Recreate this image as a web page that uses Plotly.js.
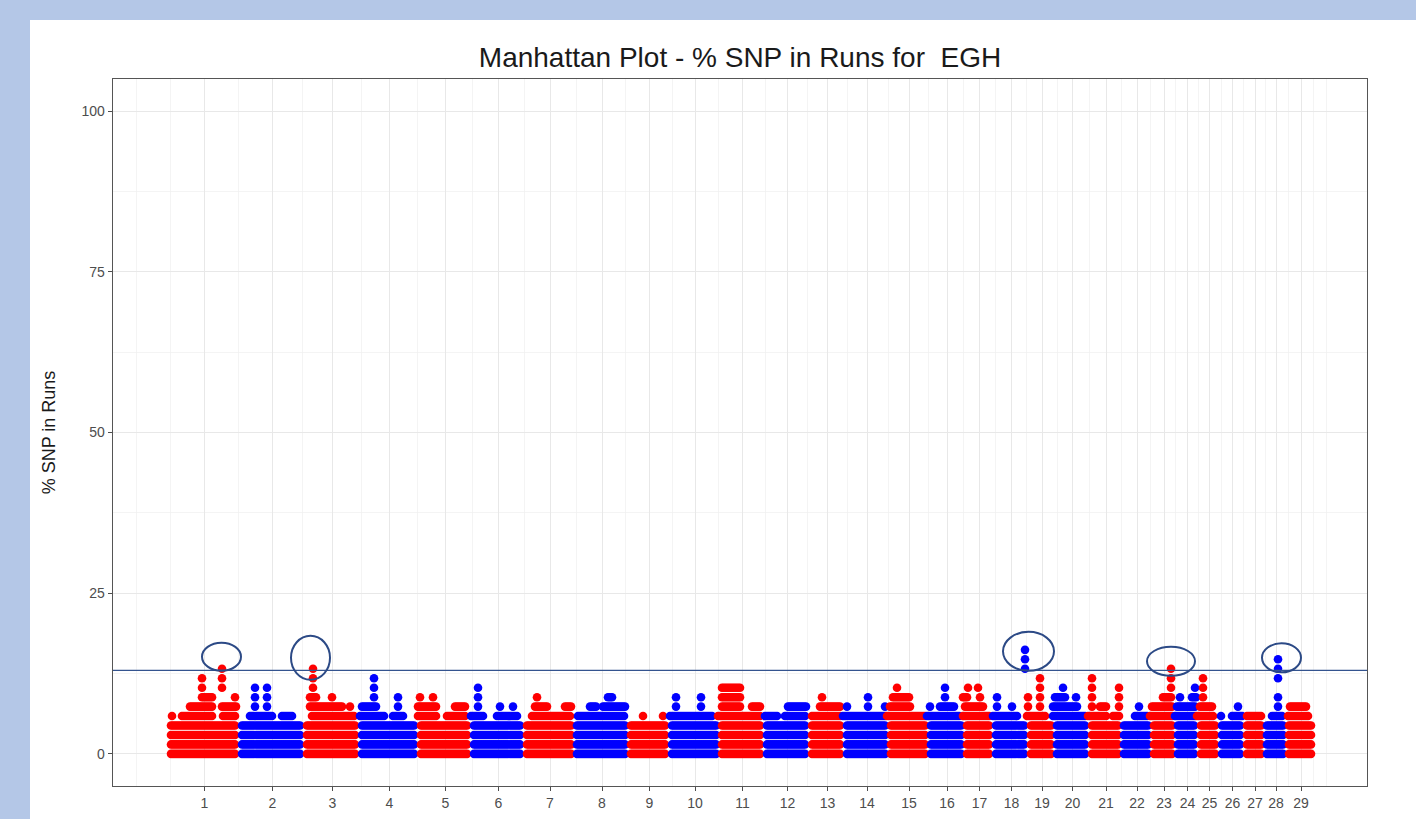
<!DOCTYPE html>
<html>
<head>
<meta charset="utf-8">
<script src="https://cdn.plot.ly/plotly-3.0.1.min.js"></script>
<style>
  html, body { margin:0; padding:0; overflow:hidden; background:#b4c7e7; }
  #panel { position:absolute; left:30px; top:20px; width:1386px; height:830px; background:#ffffff; }
  #chart { position:absolute; left:0; top:0; width:1416px; height:850px; }
</style>
</head>
<body>
<div id="panel"></div>
<div id="chart"></div>
<script>
// ---------------- data ----------------
const chromosomes = ['1','2','3','4','5','6','7','8','9','10','11','12','13','14','15','16','17','18','19','20','21','22','23','24','25','26','27','28','29'];
// span of each chromosome on the cumulative x axis (position units)
const chromLen = [71, 65, 55, 59, 53, 53, 50, 54, 41, 50, 45, 45, 35, 44, 40, 36, 29, 35, 26, 35, 32, 30, 24, 23, 21, 25, 20, 22, 28];
// % SNP in runs values present at (almost) every SNP position
const baseValues = [0, 1.47, 2.94, 4.41];
// higher values: [chromosome, % SNP in runs, from position, to position] (positions within chromosome)
const peakRuns = [
  [1,5.88,5,5],[1,5.88,15,45],[1,5.88,56,69],[1,7.35,23,46],[1,7.35,55,69],[1,8.82,35,45],[1,8.82,68,68],
  [1,10.29,35,35],[1,10.29,55,55],[1,11.76,35,35],[1,11.76,55,55],[1,13.24,55,55],
  [2,5.88,12,34],[2,5.88,44,55],[2,7.35,17,17],[2,7.35,29,29],[2,8.82,17,17],[2,8.82,29,29],[2,10.29,17,17],[2,10.29,29,29],
  [3,5.88,9,52],[3,7.35,7,40],[3,7.35,47,47],[3,8.82,7,14],[3,8.82,29,29],[3,10.29,10,10],[3,11.76,10,10],[3,13.24,10,10],
  [4,5.88,2,27],[4,5.88,35,45],[4,7.35,4,19],[4,7.35,40,40],[4,8.82,16,16],[4,8.82,40,40],[4,10.29,16,16],[4,11.76,16,16],
  [5,5.88,1,20],[5,5.88,30,48],[5,7.35,1,20],[5,7.35,38,48],[5,8.82,3,3],[5,8.82,16,16],
  [6,5.88,1,13],[6,5.88,27,48],[6,7.35,8,8],[6,7.35,30,30],[6,7.35,43,43],[6,8.82,8,8],[6,10.29,8,8],
  [7,5.88,9,48],[7,7.35,12,24],[7,7.35,42,48],[7,8.82,14,14],
  [8,5.88,5,52],[8,7.35,17,24],[8,7.35,30,52],[8,8.82,35,40],
  [9,5.88,16,16],[9,5.88,36,36],
  [10,5.88,2,45],[10,7.35,8,8],[10,7.35,33,33],[10,8.82,8,8],[10,8.82,33,33],
  [11,5.88,0,43],[11,7.35,4,22],[11,7.35,34,43],[11,8.82,4,22],[11,10.29,4,22],
  [12,5.88,2,14],[12,5.88,22,43],[12,7.35,25,43],
  [13,5.88,4,33],[13,7.35,12,33],[13,8.82,14,14],
  [14,5.88,0,42],[14,7.35,4,4],[14,7.35,25,25],[14,7.35,42,42],[14,8.82,25,25],
  [15,5.88,0,38],[15,7.35,3,23],[15,8.82,6,23],[15,10.29,10,10],
  [16,5.88,0,33],[16,7.35,3,3],[16,7.35,13,28],[16,8.82,18,18],[16,10.29,18,18],
  [17,5.88,0,27],[17,7.35,2,20],[17,8.82,0,5],[17,8.82,17,17],[17,10.29,5,5],[17,10.29,15,15],
  [18,5.88,1,26],[18,7.35,5,5],[18,7.35,20,20],[18,8.82,5,5],[18,13.24,33,33],[18,14.71,33,33],[18,16.18,33,33],
  [19,5.88,0,18],[19,7.35,1,1],[19,7.35,13,13],[19,8.82,1,1],[19,8.82,13,13],[19,10.29,13,13],[19,11.76,13,13],
  [20,5.88,0,32],[20,7.35,0,25],[20,8.82,2,12],[20,8.82,23,23],[20,10.29,10,10],
  [21,5.88,0,19],[21,5.88,25,31],[21,7.35,4,4],[21,7.35,12,19],[21,7.35,31,31],[21,8.82,4,4],[21,8.82,31,31],
  [21,10.29,4,4],[21,10.29,31,31],[21,11.76,4,4],
  [22,5.88,15,28],[22,7.35,19,19],
  [23,5.88,0,23],[23,7.35,2,23],[23,8.82,13,22],[23,10.29,21,21],[23,11.76,21,21],[23,13.24,21,21],
  [24,5.88,1,22],[24,7.35,3,22],[24,8.82,6,6],[24,8.82,18,22],[24,10.29,21,21],
  [25,5.88,0,16],[25,7.35,3,15],[25,8.82,6,6],[25,10.29,6,6],[25,11.76,6,6],
  [26,5.88,3,3],[26,5.88,14,24],[26,7.35,20,20],
  [27,5.88,4,19],
  [28,5.88,9,19],[28,7.35,15,15],[28,8.82,15,15],[28,11.76,15,15],[28,13.24,15,15],[28,14.71,15,15],
  [29,5.88,3,23],[29,7.35,5,22]
];
const threshold = 13.0;
const highlightedChrom = [1, 3, 18, 23, 28];
const yTicks = [0, 25, 50, 75, 100];

// ---------------- build ----------------
const FONT = 'Liberation Sans, Arial, sans-serif';
const colors = ['#ff0000', '#0000ff'];
const starts = [];
let acc = 0;
chromLen.forEach(l => { starts.push(acc); acc += l; });
const SNP_STEP = 2, FIRST = 4;

const traces = chromosomes.map((c, i) => {
  const xs = [], ys = [];
  for (let p = FIRST; p <= chromLen[i] - 2; p += SNP_STEP) {
    baseValues.forEach(v => { xs.push(starts[i] + p); ys.push(v); });
  }
  peakRuns.filter(r => r[0] === i + 1).forEach(r => {
    for (let p = r[2]; p <= r[3]; p += SNP_STEP) { xs.push(starts[i] + p); ys.push(r[1]); }
  });
  return {
    type: 'scatter', mode: 'markers', x: xs, y: ys, name: 'chr' + c,
    marker: { color: colors[i % 2], size: 8.6, line: { width: 0 } },
    hoverinfo: 'skip', showlegend: false, cliponaxis: true
  };
});

const centers = chromosomes.map((c, i) => starts[i] + (FIRST + chromLen[i]) / 2);
// ggplot-like minor breaks
const ext = [centers[0] - (centers[1] - centers[0])].concat(centers,
  [centers[centers.length - 1] + (centers[centers.length - 1] - centers[centers.length - 2])]);
const minorX = [ext[0]];
for (let k = 0; k < ext.length - 1; k++) minorX.push((ext[k] + ext[k + 1]) / 2);
minorX.push(ext[ext.length - 1]);

const shapes = [{
  type: 'line', xref: 'paper', x0: 0, x1: 1, yref: 'y', y0: threshold, y1: threshold,
  line: { color: '#34548f', width: 1.3 }, layer: 'above'
}];
// ellipse boxes in pixels around each highlighted peak: [x0, x1, y0(up), y1(up)]
const circleBox = { 1: [-20, 19, -2, 26], 3: [-22, 17, -11, 33], 18: [-22, 29, -21, 18], 23: [-24, 24, -7, 22], 28: [-16, 23, -13, 16] };
highlightedChrom.forEach(ch => {
  const runs = peakRuns.filter(r => r[0] === ch);
  let top = runs[0];
  runs.forEach(r => { if (r[1] > top[1]) top = r; });
  const b = circleBox[ch];
  shapes.push({
    type: 'circle', xref: 'x', yref: 'y', xsizemode: 'pixel', ysizemode: 'pixel',
    xanchor: starts[ch - 1] + top[2], yanchor: top[1],
    x0: b[0], x1: b[1], y0: b[2], y1: b[3],
    line: { color: '#2c4a86', width: 2 }, fillcolor: 'rgba(0,0,0,0)', layer: 'above'
  });
});

const layout = {
  width: 1416, height: 850,
  margin: { l: 113, r: 49, t: 79, b: 64, pad: 0 },
  paper_bgcolor: 'rgba(0,0,0,0)', plot_bgcolor: '#ffffff',
  font: { family: FONT, color: '#4d4d4d' },
  title: {
    text: 'Manhattan Plot - % SNP in Runs for  EGH', x: 0.5, xref: 'paper',
    y: 1 - 57 / 850, yref: 'container', yanchor: 'middle',
    font: { family: FONT, size: 28, color: '#1a1a1a' }
  },
  xaxis: {
    range: [-54, 1200], tickmode: 'array', tickvals: centers, ticktext: chromosomes,
    ticks: 'outside', ticklen: 4, tickwidth: 1, tickcolor: '#4d4d4d',
    tickfont: { family: FONT, size: 14, color: '#4d4d4d' },
    showgrid: true, gridcolor: '#e8e8e8', gridwidth: 1,
    minor: { tickmode: 'array', tickvals: minorX, showgrid: true, gridcolor: '#f0f0f0', gridwidth: 0.7, ticks: '' },
    showline: true, mirror: true, linecolor: '#555555', linewidth: 1.3, zeroline: false,
    title: { text: 'Chromosome', standoff: 12, font: { family: FONT, size: 17, color: '#1a1a1a' } }
  },
  yaxis: {
    range: [-5, 105], tickmode: 'array', tickvals: yTicks, ticktext: yTicks.map(String),
    ticks: 'outside', ticklen: 4, tickwidth: 1, tickcolor: '#4d4d4d',
    tickfont: { family: FONT, size: 14, color: '#4d4d4d' },
    showgrid: true, gridcolor: '#e8e8e8', gridwidth: 1,
    minor: { tickmode: 'array', tickvals: [12.5, 37.5, 62.5, 87.5], showgrid: true, gridcolor: '#f0f0f0', gridwidth: 0.7, ticks: '' },
    showline: true, mirror: true, linecolor: '#555555', linewidth: 1.3, zeroline: false,
    title: { text: '% SNP in Runs', standoff: 21, font: { family: FONT, size: 18, color: '#1a1a1a' } }
  },
  shapes: shapes
};

Plotly.newPlot('chart', traces, layout, { staticPlot: true, displayModeBar: false });
</script>
</body>
</html>
